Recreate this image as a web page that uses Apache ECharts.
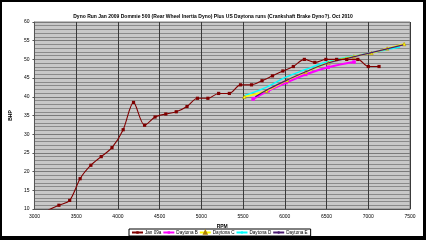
<!DOCTYPE html>
<html><head><meta charset="utf-8">
<script src="https://cdn.jsdelivr.net/npm/echarts@6/dist/echarts.min.js"></script>
<style>
html,body{margin:0;padding:0;background:#000;width:426px;height:240px;overflow:hidden}
#bg{position:absolute;left:2px;top:2px;width:421px;height:234px;background:#fff}
#c{position:absolute;left:0;top:0;width:426px;height:240px}
</style></head><body>
<div id="bg"></div><div id="c"></div>
<script>
const titleText = "Dyno Run Jan 2009 Dommie 500 (Rear Wheel Inertia Dyno) Plus US Daytona runs (Crankshaft Brake Dyno?). Oct 2010";
const seriesNames = ["Jan 09a", "Daytona B", "Daytona C", "Daytona D", "Daytona E"];

const rpmJan = [3165, 3293, 3422, 3547, 3676, 3800, 3929, 4063, 4187, 4320, 4445, 4574, 4699, 4828, 4953, 5078, 5207, 5335, 5469, 5601, 5727, 5852, 5977, 6102, 6234, 6359, 6492, 6621, 6742, 6875, 7000, 7129];
const bhpJan = [9.7, 11.0, 12.3, 18.1, 21.7, 24.0, 26.4, 31.2, 38.5, 32.4, 34.6, 35.4, 36.0, 37.4, 39.6, 39.6, 40.9, 40.9, 43.2, 43.2, 44.3, 45.6, 46.9, 48.1, 50.0, 49.2, 50.0, 50.0, 50.0, 50.0, 48.1, 48.1];

const rpmB = [5620, 5800, 6015, 6250, 6520, 6830];
const bhpB = [39.4, 41.6, 43.8, 46.0, 47.9, 49.3];

const rpmC = [5515, 5780, 6027, 6250, 6523, 6827, 7038, 7226, 7430];
const bhpC = [40.0, 41.6, 44.4, 46.6, 49.1, 50.8, 51.7, 52.9, 54.1];

const rpmD = [5515, 5780, 6000, 6250, 6500, 6750, 7000, 7380];
const bhpD = [40.3, 42.6, 45.1, 47.3, 49.3, 50.6, 51.6, 53.3];

const rpmE = [5647, 5800, 6000, 6250, 6500, 6750, 7000, 7200, 7418];
const bhpE = [40.0, 42.0, 44.2, 46.7, 48.9, 50.3, 51.6, 52.7, 53.9];

const xTicks = [3000, 3500, 4000, 4500, 5000, 5500, 6000, 6500, 7000, 7500];
const yTicks = [10, 15, 20, 25, 30, 35, 40, 45, 50, 55, 60];

function pairs(xs, ys){ return xs.map((x,i)=>[x, ys[i]]); }

const FONT = "Liberation Sans, Arial, sans-serif";
const chart = echarts.init(document.getElementById('c'), null, {renderer:'canvas'});
chart.setOption({
  animation:false,
  backgroundColor:'transparent',
  title:{text:titleText, left:'center', top:9, textStyle:{fontFamily:FONT, fontSize:5, fontWeight:'bold', color:'#000'}},
  grid:{left:26, right:16, top:22, bottom:31, show:true, backgroundColor:'#c8c8c8', borderColor:'#808080', borderWidth:1},
  legend:{
    bottom:4, left:129, itemWidth:11, itemHeight:3, itemGap:1,
    backgroundColor:'#fff', borderColor:'#000', borderWidth:1, padding:[1,3,1,2],
    textStyle:{fontFamily:FONT, fontSize:4.6, color:'#000', padding:[0,0,0,-3]},
    data:seriesNames
  },
  xAxis:{
    type:'value', min:xTicks[0], max:xTicks[xTicks.length-1], interval:500,
    name:'RPM', nameLocation:'middle', nameGap:11,
    nameTextStyle:{fontFamily:FONT, fontSize:5, fontWeight:'bold', color:'#000'},
    axisLine:{show:true, lineStyle:{color:'#555', width:1}},
    axisTick:{show:false},
    axisLabel:{fontFamily:FONT, fontSize:5, color:'#000', margin:5, formatter:(v)=>String(v)},
    splitLine:{show:true, lineStyle:{color:'#3a3a3a', width:1}}
  },
  yAxis:{
    type:'value', min:yTicks[0], max:yTicks[yTicks.length-1], interval:5,
    name:'BHP', nameLocation:'middle', nameGap:15, nameRotate:90,
    nameTextStyle:{fontFamily:FONT, fontSize:5, fontWeight:'bold', color:'#000'},
    axisLine:{show:true, lineStyle:{color:'#555', width:1}},
    axisTick:{show:true, length:2, lineStyle:{color:'#555'}},
    axisLabel:{fontFamily:FONT, fontSize:5, color:'#000', margin:5},
    splitLine:{show:true, lineStyle:{color:'#7a7a7a', width:1}},
    minorTick:{show:false, splitNumber:5},
    minorSplitLine:{show:true, lineStyle:{color:'#8a8a8a', width:1}}
  },
  series:[
    {name:seriesNames[1], type:'line', data:pairs(rpmB,bhpB), smooth:0.4, color:'#ff00ff',
     lineStyle:{width:2.2}, symbol:'rect', symbolSize:3.5, z:3},
    {name:seriesNames[2], type:'line', data:pairs(rpmC,bhpC), smooth:0.4, color:'#ffff00',
     lineStyle:{width:1.6}, symbol:'triangle', symbolSize:3.5, itemStyle:{borderColor:'#b08000', borderWidth:0.5}, z:4},
    {name:seriesNames[3], type:'line', data:pairs(rpmD,bhpD), smooth:0.4, color:'#00ffff',
     lineStyle:{width:1.4}, symbol:'circle', symbolSize:2, showSymbol:false, z:3},
    {name:seriesNames[4], type:'line', data:pairs(rpmE,bhpE), smooth:0.4, color:'#4a1a70',
     lineStyle:{width:1.2}, symbol:'circle', symbolSize:2, showSymbol:false, z:5},
    {name:seriesNames[0], type:'line', data:pairs(rpmJan,bhpJan), smooth:0.3, color:'#800000',
     lineStyle:{width:1.1}, symbol:'rect', symbolSize:3.2, clip:true, z:6}
  ]
});
</script></body></html>
